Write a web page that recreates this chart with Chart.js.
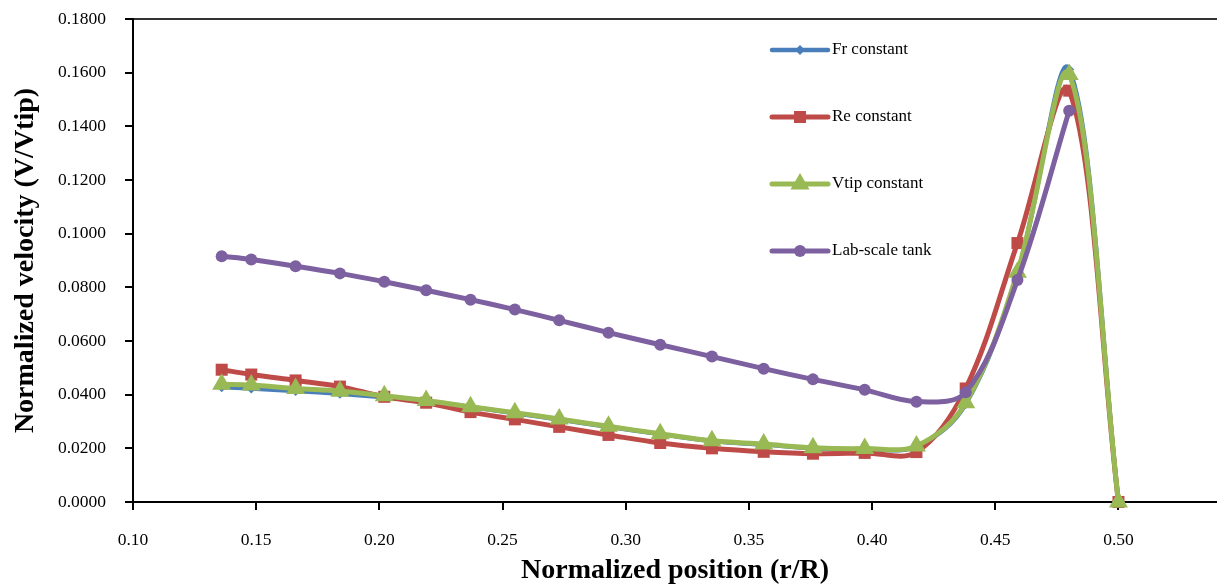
<!DOCTYPE html>
<html>
<head>
<meta charset="utf-8">
<script src="https://cdn.jsdelivr.net/npm/chart.js@4/dist/chart.umd.min.js"></script>
<style>
  html, body { margin: 0; padding: 0; background: #fff; }
  #wrap { width: 1217px; height: 585px; }
</style>
</head>
<body>
<div id="wrap"><canvas id="canvas" width="1217" height="585"></canvas></div>
<script>
// radial positions r/R
const positions = [0.136, 0.148, 0.166, 0.184, 0.202, 0.219, 0.237, 0.255, 0.273, 0.293,
  0.314, 0.335, 0.356, 0.376, 0.397, 0.418, 0.438, 0.459, 0.480, 0.500];

const frConstant = [0.0428, 0.0423, 0.0414, 0.0403, 0.0390, 0.0375, 0.0354, 0.0331, 0.0307, 0.0280,
  0.0253, 0.0227, 0.0214, 0.0200, 0.0197, 0.0207, 0.0365, 0.0850, 0.1612, 0.0000];
const reConstant = [0.0493, 0.0475, 0.0453, 0.0430, 0.0392, 0.0370, 0.0335, 0.0308, 0.0280, 0.0250,
  0.0220, 0.0200, 0.0187, 0.0180, 0.0183, 0.0186, 0.0423, 0.0965, 0.1533, 0.0000];
const vtipConstant = [0.0439, 0.0436, 0.0423, 0.0413, 0.0396, 0.0378, 0.0355, 0.0333, 0.0309, 0.0282,
  0.0254, 0.0228, 0.0216, 0.0202, 0.0199, 0.0209, 0.0370, 0.0856, 0.1593, 0.0000];
// lab tank has no value at the wall
const labTank = [0.0916, 0.0904, 0.0879, 0.0852, 0.0821, 0.0789, 0.0754, 0.0717, 0.0677, 0.0631,
  0.0586, 0.0542, 0.0497, 0.0457, 0.0418, 0.0374, 0.0409, 0.0827, 0.1458, null];

const seriesNames = ['Fr constant', 'Re constant', 'Vtip constant', 'Lab-scale tank'];
const xTicks = [0.10, 0.15, 0.20, 0.25, 0.30, 0.35, 0.40, 0.45, 0.50];

const pts = vals => positions.map((x, i) => ({ x: x, y: vals[i] })).filter(p => p.y !== null);
const serif = 'Liberation Serif, Times New Roman, serif';

const datasets = [
  { label: seriesNames[0], data: pts(frConstant), borderColor: '#4A7EBB', backgroundColor: '#4A7EBB',
    pointStyle: 'rectRot', pointRadius: 5, borderWidth: 4.5, order: 4 },
  { label: seriesNames[1], data: pts(reConstant), borderColor: '#BE4B48', backgroundColor: '#BE4B48',
    pointStyle: 'rect', pointRadius: 8.5, borderWidth: 5, order: 3 },
  { label: seriesNames[2], data: pts(vtipConstant), borderColor: '#98B954', backgroundColor: '#98B954',
    pointStyle: 'triangle', pointRadius: 11, borderWidth: 5, order: 2 },
  { label: seriesNames[3], data: pts(labTank), borderColor: '#7D60A0', backgroundColor: '#7D60A0',
    pointStyle: 'circle', pointRadius: 6, borderWidth: 5, order: 1 }
];
datasets.forEach(d => { d.tension = 0.35; d.pointBorderWidth = 0; d.pointHoverRadius = d.pointRadius; d.clip = 12; });

// legend drawn inside the plot, like the original
const insideLegend = {
  id: 'insideLegend',
  afterDraw(chart) {
    const ctx = chart.ctx;
    const x0 = 772, x1 = 828, rows = [50, 117, 184, 251];
    chart.data.datasets.forEach((d, i) => {
      const y = rows[i];
      ctx.save();
      ctx.strokeStyle = d.borderColor;
      ctx.lineWidth = d.borderWidth;
      ctx.lineCap = 'round';
      ctx.beginPath();
      ctx.moveTo(x0, y);
      ctx.lineTo(x1, y);
      ctx.stroke();
      ctx.fillStyle = d.backgroundColor;
      Chart.helpers.drawPoint(ctx, { pointStyle: d.pointStyle, radius: d.pointRadius, rotation: 0, borderWidth: 0 }, (x0 + x1) / 2, y);
      ctx.fillStyle = '#000';
      ctx.font = '17px ' + serif;
      ctx.textBaseline = 'middle';
      ctx.textAlign = 'left';
      ctx.fillText(d.label, 832, y);
      ctx.restore();
    });
  }
};

new Chart(document.getElementById('canvas').getContext('2d'), {
  type: 'line',
  data: { datasets: datasets },
  options: {
    responsive: false,
    animation: false,
    layout: { autoPadding: false, padding: { left: 8, right: 0, top: 19, bottom: 0 } },
    plugins: { legend: { display: false }, tooltip: { enabled: false } },
    scales: {
      x: {
        type: 'linear',
        min: 0.10,
        max: 0.54,
        border: { display: true, color: '#000', width: 2 },
        grid: { drawOnChartArea: false, color: '#000', tickColor: '#000', tickLength: 8, lineWidth: 2 },
        afterBuildTicks: axis => { axis.ticks = xTicks.map(v => ({ value: v })); },
        afterFit: s => { s.height = 83; s.paddingLeft = 0; s.paddingRight = 0; },
        ticks: {
          color: '#000', padding: 20, maxRotation: 0, autoSkip: false,
          font: { family: serif, size: 17.5 },
          callback: v => v.toFixed(2)
        },
        title: {
          display: true, text: 'Normalized position (r/R)', color: '#000',
          font: { family: serif, size: 28, weight: 'bold', lineHeight: 1.0 },
          padding: { top: 0, bottom: 0 }
        }
      },
      y: {
        min: 0,
        max: 0.18,
        border: { display: true, color: '#000', width: 2 },
        grid: {
          color: c => (c.tick && Math.abs(c.tick.value - 0.18) < 1e-9) ? '#333' : 'rgba(0,0,0,0)',
          tickColor: '#000', tickLength: 8, lineWidth: 2
        },
        afterFit: s => { s.width = 125; s.paddingTop = 0; s.paddingBottom = 0; },
        ticks: {
          stepSize: 0.02, color: '#000', padding: 19,
          font: { family: serif, size: 17.5 },
          callback: v => v.toFixed(4)
        },
        title: {
          display: true, text: 'Normalized velocity (V/Vtip)', color: '#000',
          font: { family: serif, size: 28, weight: 'bold' },
          padding: { top: 1, bottom: 19 }
        }
      }
    }
  },
  plugins: [insideLegend]
});
</script>
</body>
</html>
